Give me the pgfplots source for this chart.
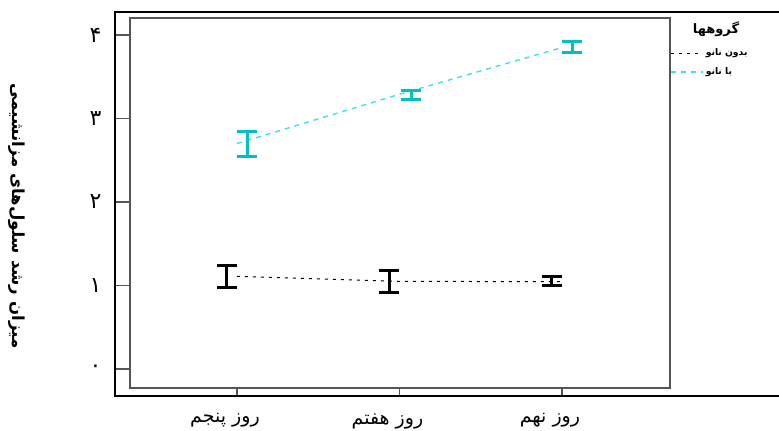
\documentclass[border=0pt]{standalone}
\usepackage{pgfplots}
\pgfplotsset{compat=1.18}
\usepackage{fontspec}
\setmainfont{DejaVu Sans}
\newfontfamily\arabicfont[Script=Arabic]{DejaVu Sans}
\TeXXeTstate=1
\definecolor{barcyan}{RGB}{0,192,192}
\definecolor{linecyan}{RGB}{60,225,240}
\definecolor{framegray}{RGB}{85,85,85}

\begin{document}
\begin{tikzpicture}
\begin{axis}[
  scale only axis, width=270pt, height=185pt,
  xmin=0.342, xmax=3.665, ymin=-0.228, ymax=4.204,
  axis line style={draw=framegray, line width=0.6pt},
  tick align=outside, xtick pos=bottom, ytick pos=left,
  xtick={1,2,3},
  xticklabels={{\arabicfont\beginR روز پنجم\endR},{\arabicfont\beginR روز هفتم\endR},{\arabicfont\beginR روز نهم\endR}},
  ytick={0,1,2,3,4},
  yticklabels={{\arabicfont ۰},{\arabicfont ۱},{\arabicfont ۲},{\arabicfont ۳},{\arabicfont ۴}},
  xtick style={draw=framegray, line width=0.6pt, /pgfplots/major tick length=4pt},
  ytick style={draw=framegray, line width=0.6pt, /pgfplots/major tick length=7.5pt},
  xticklabel style={font=\fontsize{9.5}{11}\selectfont, yshift=-5pt, xshift=-6pt},
  yticklabel style={font=\fontsize{11}{12}\selectfont, xshift=-6.5pt},
  clip=false,
  legend cell align=left,
  legend style={at={(axis description cs:1.0,0.925)}, anchor=north west,
    draw=none, fill=none, inner sep=0pt, row sep=2.5pt,
    font=\fontsize{4.6}{5}\selectfont\bfseries,
    nodes={inner sep=1pt}},
  legend image code/.code={\draw[#1] (0pt,0pt) -- (16pt,0pt);},
]
% mean lines at the day positions
\addplot[black, line width=0.5pt, dash pattern=on 1.5pt off 2.5pt] coordinates {
  (1,1.11) (2,1.05) (3,1.045)
};
\addlegendentry{\arabicfont\beginR بدون نانو\endR}
\addplot[linecyan, line width=0.7pt, dash pattern=on 2.5pt off 2.5pt] coordinates {
  (1,2.70) (2,3.29) (3,3.85)
};
\addlegendentry{\arabicfont\beginR با نانو\endR}
% error bars, dodged a little
\addplot[forget plot, draw=none, mark=none,
  error bars/.cd, y dir=both, y explicit,
  error bar style={black, line width=1.5pt},
  error mark options={rotate=90, mark size=5pt, black, line width=1.5pt}]
  coordinates {
  (0.938,1.11) +- (0,0.13)
  (1.938,1.05) +- (0,0.128)
  (2.938,1.048) +- (0,0.054)
};
\addplot[forget plot, draw=none, mark=none,
  error bars/.cd, y dir=both, y explicit,
  error bar style={barcyan, line width=1.5pt},
  error mark options={rotate=90, mark size=5pt, barcyan, line width=1.5pt}]
  coordinates {
  (1.062,2.70) +- (0,0.15)
  (2.074,3.287) +- (0,0.054)
  (3.062,3.855) +- (0,0.068)
};
\end{axis}
% outer frame
\draw[black, line width=1.1pt] (330pt,188pt) -- (-7.5pt,188pt) -- (-7.5pt,-4pt) -- (330pt,-4pt);
\node[font=\fontsize{8.3}{10}\selectfont\bfseries, rotate=-90] at (-56.5pt,86pt) {\arabicfont\beginR میزان رشد سلول‌های مزانشیمی\endR};
\node[font=\fontsize{6.5}{7}\selectfont\bfseries] at (293pt,179.5pt) {\arabicfont\beginR گروهها\endR};
\pgfresetboundingbox
\path[use as bounding box] (-65pt,-21pt) rectangle (324.5pt,194pt);
\end{tikzpicture}
\end{document}
